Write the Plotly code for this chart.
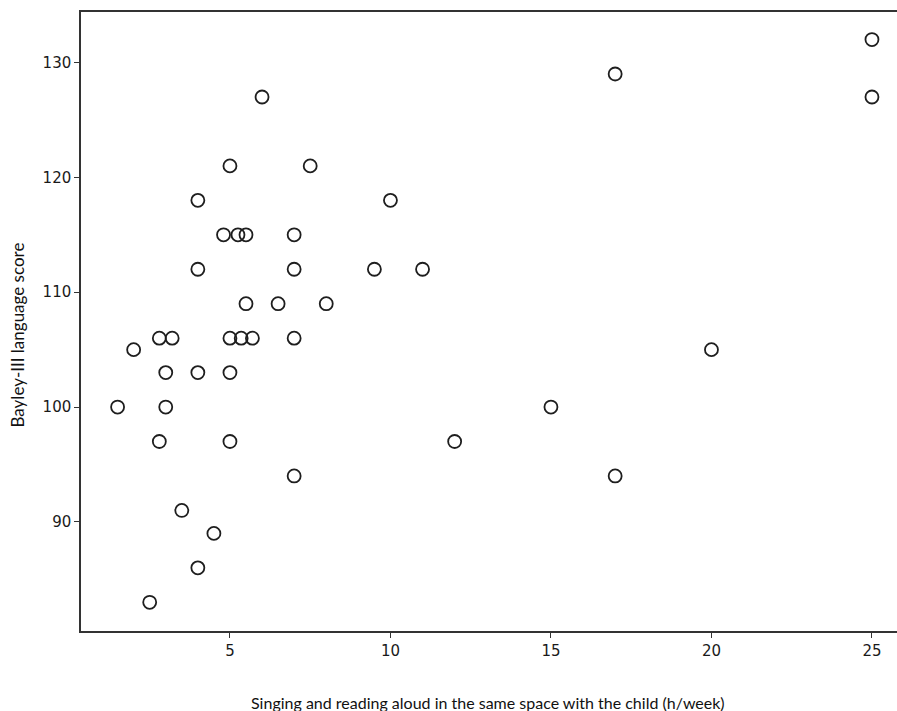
import plotly.graph_objects as go

hours = [1.5, 2, 2.5, 2.8, 2.8, 3, 3, 3.2, 3.5, 4, 4, 4, 4, 4.5, 4.8, 5, 5, 5, 5,
         5.25, 5.35, 5.5, 5.5, 5.7, 6, 6.5, 7, 7, 7, 7, 7.5, 8, 9.5, 10, 11, 12,
         15, 17, 17, 20, 25, 25]
scores = [100, 105, 83, 106, 97, 103, 100, 106, 91, 118, 112, 103, 86, 89, 115, 121, 106, 103, 97,
          115, 106, 115, 109, 106, 127, 109, 115, 112, 106, 94, 121, 109, 112, 118, 112, 97,
          100, 129, 94, 105, 132, 127]

x_ticks = [5, 10, 15, 20, 25]
y_ticks = [90, 100, 110, 120, 130]
x_title = "Singing and reading aloud in the same space with the child (h/week)"
y_title = "Bayley-III language score"

fig = go.Figure()
fig.add_trace(go.Scatter(
    x=hours, y=scores, mode="markers",
    marker=dict(symbol="circle-open", size=13, color="#1e1e1e", line=dict(width=1.8, color="#1e1e1e")),
    hoverinfo="x+y", showlegend=False,
))

axis_common = dict(showgrid=False, zeroline=False, showline=True, linecolor="#333333", linewidth=1.5,
                   ticks="outside", ticklen=5, tickwidth=1.2, tickcolor="#333333",
                   tickfont=dict(family="DejaVu Sans, Verdana, sans-serif", size=15, color="#1a1a1a"))

fig.update_layout(
    width=897, height=711,
    margin=dict(l=81, r=0, t=12, b=80),
    paper_bgcolor="white", plot_bgcolor="white",
    xaxis=dict(range=[0.36, 25.78], tickvals=x_ticks, mirror=True, **axis_common),
    yaxis=dict(range=[80.5, 134.4], tickvals=y_ticks, **axis_common),
    annotations=[
        dict(text=x_title, x=0.5, y=0, xref="paper", yref="paper", xanchor="center", yanchor="middle",
             yshift=-71, xshift=-1, showarrow=False,
             font=dict(family="Lato", size=16, color="#111111")),
        dict(text=y_title, x=0, y=0.5, xref="paper", yref="paper", xanchor="center", yanchor="middle",
             xshift=-64, yshift=-14, textangle=-90, showarrow=False,
             font=dict(family="Lato", size=17, color="#111111")),
    ],
)

fig.write_html("out.html")
